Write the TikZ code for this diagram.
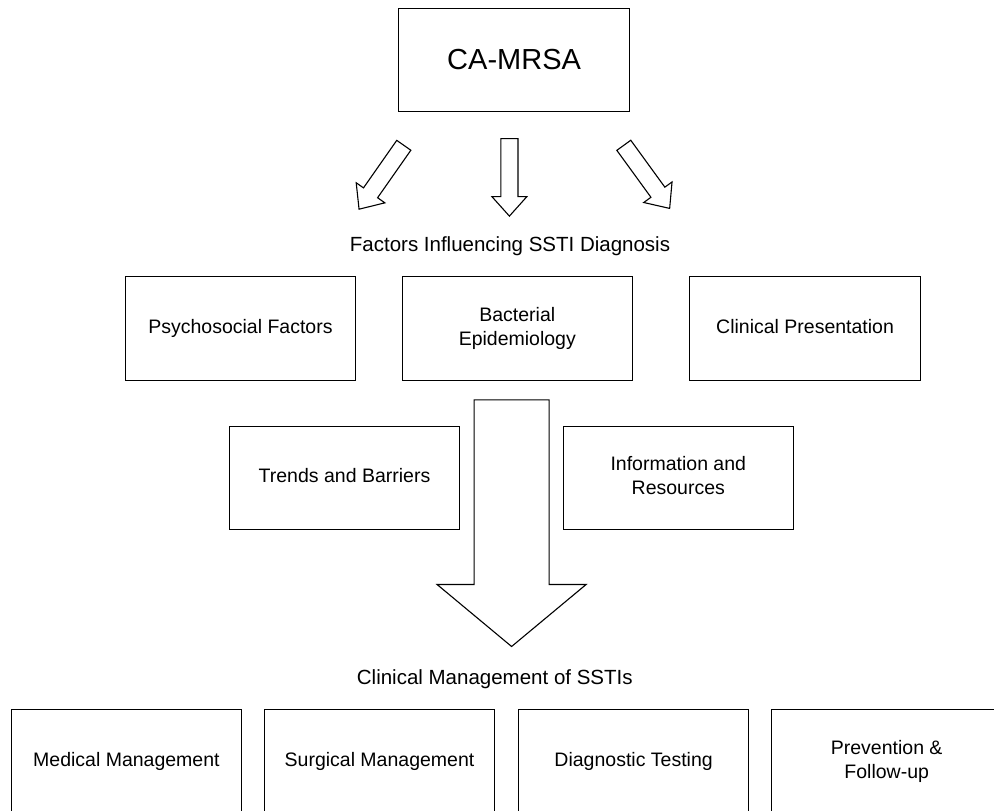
\documentclass[tikz,border=0pt]{standalone}
\usepackage{fontspec}
\setmainfont{Liberation Sans}
\tikzset{
	pics/blockarrow/.style args={#1/#2/#3/#4}{code={
			\draw[line width=1.1pt] (-#1,0) -- (-#1,#4-#3) -- (-#2,#4-#3) -- (0,#4)
			-- (#2,#4-#3) -- (#1,#4-#3) -- (#1,0) -- cycle;}},
	factor/.style={draw, line width=1.1pt, minimum width=230.5pt, minimum height=103.5pt,
		inner sep=0, outer sep=0, font=\fontsize{19.5}{23.8}\selectfont},
	heading/.style={anchor=base, inner sep=0, font=\fontsize{20.5}{25}\selectfont}
}
\newcommand{\boxtext}[1]{\begin{tabular}{c} #1 \end{tabular}}

\begin{document}
\begin{tikzpicture}[x=1pt, y=-1pt]
	\useasboundingbox (0,0) rectangle (994,811);
	\clip (0,0) rectangle (994,811);
	
	\node[factor, font=\fontsize{29}{35}\selectfont] (mrsa) at (514.1, 60) {CA-MRSA};
	
	\coordinate (fanL) at (403.8, 145.3);
	\coordinate (fanM) at (509.4, 138.6);
	\coordinate (fanR) at (623.8, 145.3);
	\pic[rotate=-35] at (fanL) {blockarrow=8.6/17.5/20/78};
	\pic at (fanM) {blockarrow=8.6/17.5/19.5/77.5};
	\pic[rotate=36] at (fanR) {blockarrow=8.6/17.5/20/78};
	
	\node[heading] (diag) at (510, 251) {Factors Influencing SSTI Diagnosis};
	
	\node[factor] (psycho) at (240.5, 328.5) {\boxtext{Psychosocial Factors}};
	\node[factor] (bact) at (517.3, 328.5) {\boxtext{Bacterial\\ Epidemiology}};
	\node[factor] (clin) at (805.1, 328.5) {\boxtext{Clinical Presentation}};
	
	% big arrow behind the second row
	\coordinate (drop) at (511.6, 399.8);
	\pic at (drop) {blockarrow=37.5/74.5/62/246.7};
	
	\node[factor] (trends) at (344.5, 478) {\boxtext{Trends and Barriers}};
	\node[factor] (info) at (678.3, 478) {\boxtext{Information and\\ Resources}};
	
	\node[heading] (mgmt) at (494.8, 684) {Clinical Management of SSTIs};
	
	\node[factor] (med) at (126.4, 761.4) {\boxtext{Medical Management}};
	\node[factor] (surg) at (379.5, 761.4) {\boxtext{Surgical Management}};
	\node[factor] (test) at (633.6, 761.4) {\boxtext{Diagnostic Testing}};
	\node[factor] (prev) at (886.7, 761.4) {\boxtext{Prevention \&\\ Follow-up}};
\end{tikzpicture}
\end{document}
